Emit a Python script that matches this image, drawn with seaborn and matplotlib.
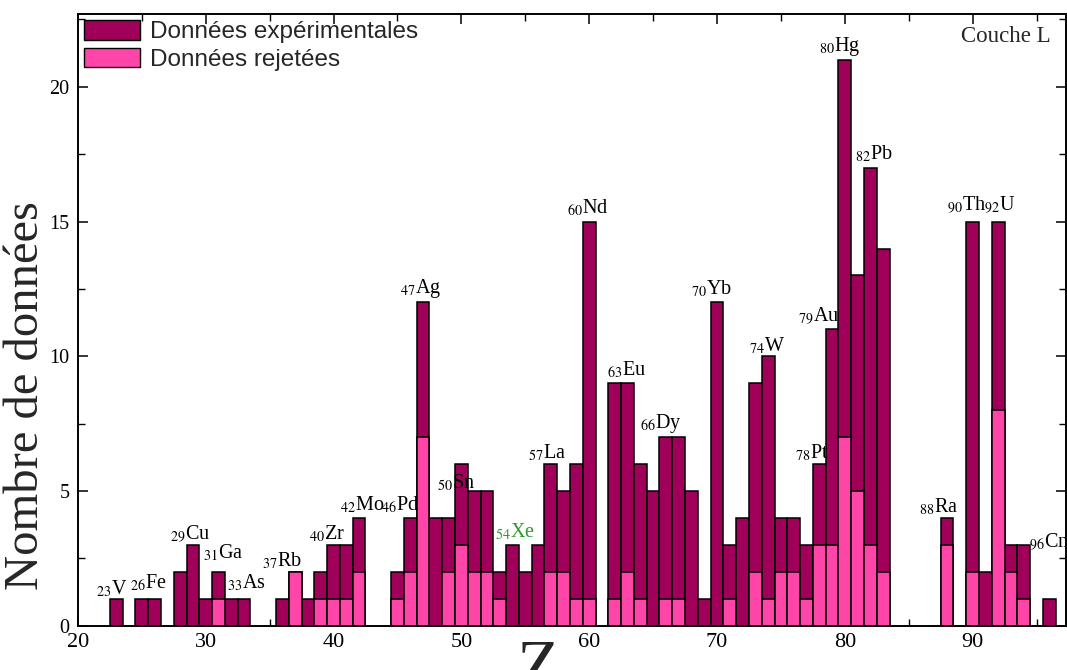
import numpy as np
import pandas as pd
import matplotlib
matplotlib.use("Agg")
import matplotlib.pyplot as plt
from matplotlib.patches import Patch
from matplotlib.ticker import MultipleLocator
import seaborn as sns

# ---------------- data ----------------
Z = [23, 25, 26, 28, 29, 30, 31, 32, 33, 36, 37, 38, 39, 40, 41, 42,
     45, 46, 47, 48, 49, 50, 51, 52, 53, 54, 55, 56, 57, 58, 59, 60,
     62, 63, 64, 65, 66, 67, 68, 69, 70, 71, 72, 73, 74, 75, 76, 77, 78, 79,
     80, 81, 82, 83, 88, 90, 91, 92, 93, 94, 96]
experimental = [1, 1, 1, 2, 3, 1, 2, 1, 1, 1, 2, 1, 2, 3, 3, 4,
                2, 4, 12, 4, 4, 6, 5, 5, 2, 3, 2, 3, 6, 5, 6, 15,
                9, 9, 6, 5, 7, 7, 5, 1, 12, 3, 4, 9, 10, 4, 4, 3, 6, 11,
                21, 13, 17, 14, 4, 15, 2, 15, 3, 3, 1]
rejected = [0, 0, 0, 0, 0, 0, 1, 0, 0, 0, 2, 0, 1, 1, 1, 2,
            1, 2, 7, 0, 2, 3, 2, 2, 1, 0, 0, 0, 2, 2, 1, 1,
            1, 2, 1, 0, 1, 1, 0, 0, 0, 1, 0, 2, 1, 2, 2, 1, 3, 3,
            7, 5, 3, 2, 3, 2, 0, 8, 2, 1, 0]

# element annotations: atomic number, symbol, label anchor (left x, centre y)
ann_num = [23, 26, 29, 31, 33, 37, 40, 42, 46, 47, 50, 54, 57, 60, 63, 66,
           70, 74, 78, 79, 80, 82, 88, 90, 92, 96]
ann_sym = ["V", "Fe", "Cu", "Ga", "As", "Rb", "Zr", "Mo", "Pd", "Ag", "Sn", "Xe",
           "La", "Nd", "Eu", "Dy", "Yb", "W", "Pt", "Au", "Hg", "Pb", "Ra",
           "Th", "U", "Cm"]
ann_x = [21.4, 24.1, 27.2, 29.8, 31.7, 34.4, 38.1, 40.5, 43.7, 45.2, 48.1, 52.6,
         55.2, 58.3, 61.4, 64.0, 68.0, 72.5, 76.1, 76.3, 78.0, 80.8, 85.8,
         88.0, 90.9, 94.4]
ann_y = [1.35, 1.6, 3.4, 2.7, 1.6, 2.4, 3.4, 4.5, 4.5, 12.5, 5.3, 3.5,
         6.4, 15.5, 9.5, 7.5, 12.5, 10.4, 6.4, 11.5, 21.5, 17.5, 4.4,
         15.6, 15.6, 3.1]

DARK = "#A0005A"
PINK = "#FF45A8"

df = pd.DataFrame({"Z": Z, "exp": experimental, "rej": rejected})
df_rej = df[df["rej"] > 0]

sns.set_theme(style="white")
plt.rcParams["font.family"] = ["Liberation Serif", "DejaVu Serif"]
plt.rcParams["mathtext.fontset"] = "stix"

fig = plt.figure(figsize=(10.67, 6.70), dpi=100)
ax = fig.add_axes([0.073, 0.066, 0.926, 0.913])

sns.barplot(data=df, x="Z", y="exp", native_scale=True, width=1.0,
            color=DARK, saturation=1, edgecolor="black", linewidth=1.1, ax=ax)
sns.barplot(data=df_rej, x="Z", y="rej", native_scale=True, width=1.0,
            color=PINK, saturation=1, edgecolor="black", linewidth=1.1, ax=ax)

ax.set_xlim(20, 97.3)
ax.set_ylim(0, 22.7)
ax.set_xlabel("")
ax.set_ylabel("")

ax.xaxis.set_major_locator(MultipleLocator(10))
ax.xaxis.set_minor_locator(MultipleLocator(5))
ax.yaxis.set_major_locator(MultipleLocator(5))
ax.yaxis.set_minor_locator(MultipleLocator(2.5))
ax.tick_params(which="both", direction="in", top=True, right=True,
               bottom=True, left=True, colors="black")
ax.tick_params(which="major", length=7, width=1.1)
ax.tick_params(which="minor", length=5, width=1.0)
ax.tick_params(axis="x", which="major", pad=5, labelsize=16)
ax.tick_params(axis="y", which="major", pad=6, labelsize=14.5)
for s in ax.spines.values():
    s.set_color("black")
    s.set_linewidth(1.4)
    s.set_visible(True)

# element labels
for n, sym, x, y in zip(ann_num, ann_sym, ann_x, ann_y):
    col = "#2E9A2E" if sym == "Xe" else "black"
    ax.text(x, y, r"$_{%d}$" % n + sym, fontsize=14.5, ha="left", va="center",
            color=col, zorder=5)

ax.text(0.985, 0.963, "Couche L", transform=ax.transAxes, fontsize=16.5,
        ha="right", va="center")

handles = [Patch(facecolor=DARK, edgecolor="black", linewidth=1.0),
           Patch(facecolor=PINK, edgecolor="black", linewidth=1.0)]
leg = ax.legend(handles, ["Données expérimentales", "Données rejetées"],
                loc="upper left", frameon=False,
                handlelength=2.3, handleheight=0.85, handletextpad=0.4,
                labelspacing=0.2, borderaxespad=0.25, borderpad=0.0,
                prop={"family": "Liberation Sans", "size": 17.5})

fig.text(0.024, 0.41, "Nombre de données", rotation=90, fontsize=35,
         ha="center", va="center")
fig.text(0.504, 0.046, "Z", fontsize=50, ha="center", va="top")

fig.savefig("out.png", dpi=100)
